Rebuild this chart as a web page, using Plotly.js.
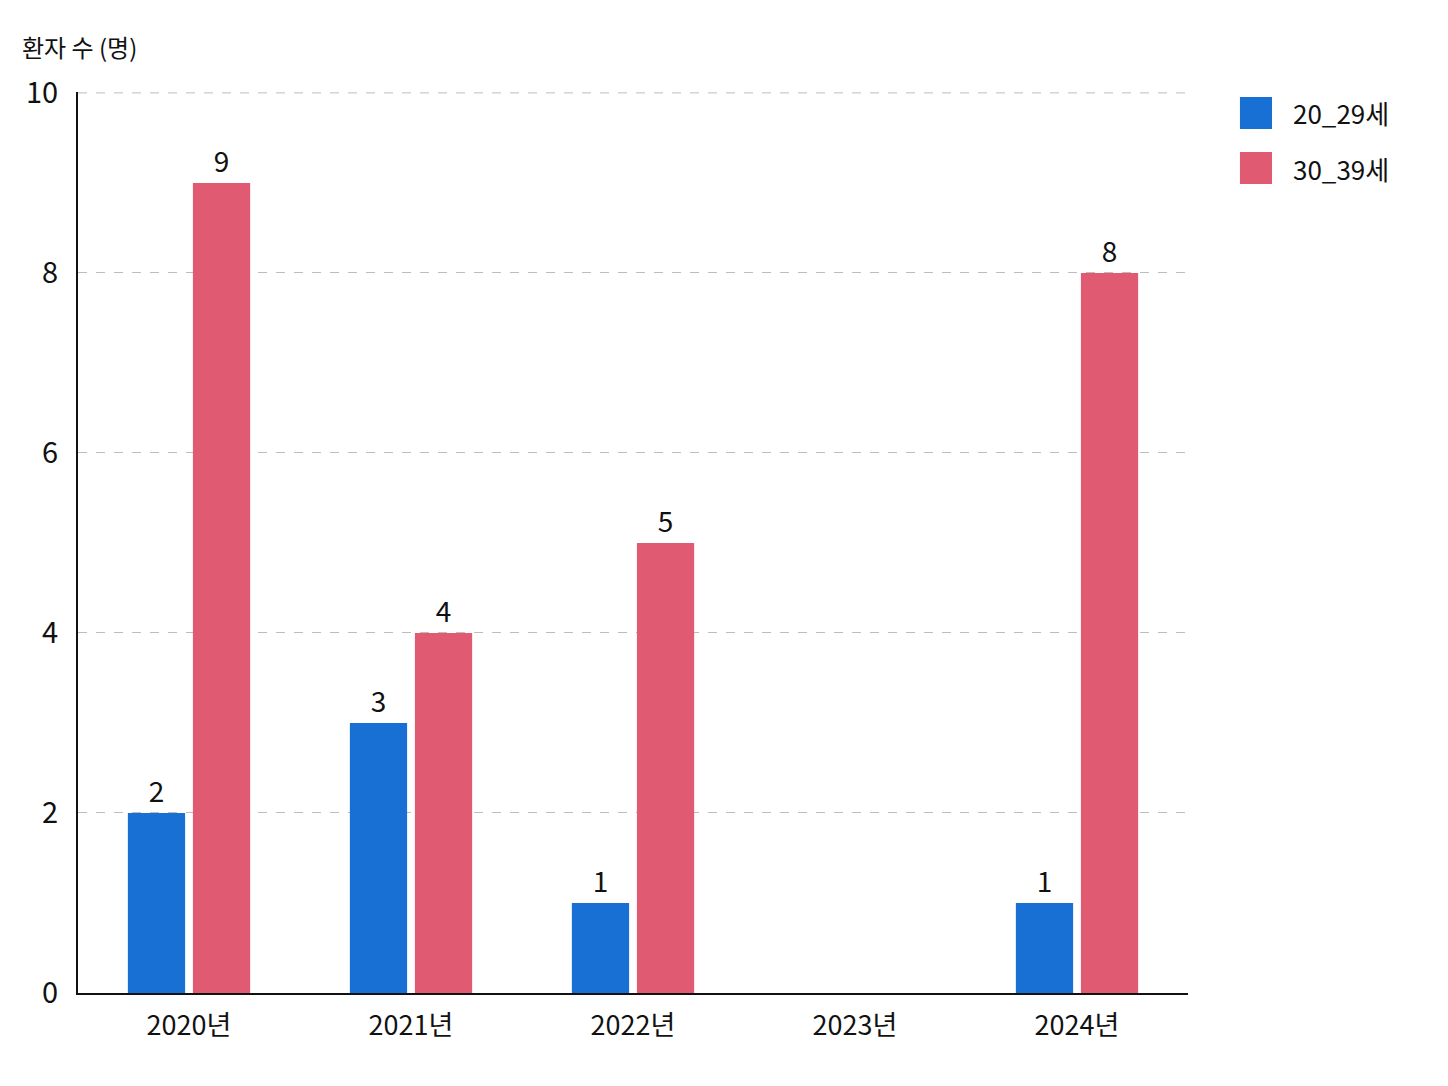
<!DOCTYPE html>
<html>
<head>
<meta charset="utf-8">
<script src="https://cdn.plot.ly/plotly-3.0.1.min.js"></script>
<style>
  html, body { margin: 0; padding: 0; background: #fff; }
  #chart { width: 1448px; height: 1086px; }
</style>
</head>
<body>
<div id="chart"></div>
<script>
var years = ['2020년', '2021년', '2022년', '2023년', '2024년'];
var age20s = [2, 3, 1, null, 1];
var age30s = [9, 4, 5, null, 8];
var seriesNames = ['20_29세', '30_39세'];
var seriesColors = ['#1870d4', '#e05b72'];
var yTicks = [0, 2, 4, 6, 8, 10];

var font = 'Noto Sans CJK KR, Noto Sans, sans-serif';

function barTrace(name, values, color) {
  return {
    type: 'bar',
    name: name,
    x: years,
    y: values,
    marker: {color: color},
    text: values.map(function (v) { return v === null ? '' : String(v); }),
    textposition: 'outside',
    textfont: {family: font, size: 28, color: '#111'},
    cliponaxis: false,
    hoverinfo: 'x+y+name'
  };
}

var data = [
  barTrace(seriesNames[0], age20s, seriesColors[0]),
  barTrace(seriesNames[1], age30s, seriesColors[1])
];

// top gridline (plotly drops the one sitting on the plot edge)
var shapes = [{
  type: 'line', xref: 'paper', yref: 'y',
  x0: 0, x1: 1, y0: yTicks[yTicks.length - 1], y1: yTicks[yTicks.length - 1],
  line: {color: '#bdbdbd', width: 1, dash: 'dash'}, layer: 'below'
}];

// legend drawn by hand so the swatches can be large
var annotations = [{
  xref: 'paper', yref: 'paper',
  x: 0, y: 1, xshift: -58, yshift: 46,
  xanchor: 'left', yanchor: 'middle',
  text: '환자 수 (명)', showarrow: false,
  font: {family: font, size: 24, color: '#111'}
}];
var legendY = [0.9767, 0.9156];
seriesNames.forEach(function (n, i) {
  shapes.push({
    type: 'rect', xref: 'paper', yref: 'paper',
    x0: 1.0468, x1: 1.0757,
    y0: legendY[i] - 0.0178, y1: legendY[i] + 0.0178,
    fillcolor: seriesColors[i], line: {width: 0}
  });
  annotations.push({
    xref: 'paper', yref: 'paper',
    x: 1.0928, y: legendY[i],
    xanchor: 'left', yanchor: 'middle',
    text: n, showarrow: false,
    font: {family: font, size: 26, color: '#111'}
  });
});

var layout = {
  width: 1448,
  height: 1086,
  margin: {l: 78, r: 260, t: 92, b: 93, pad: 0},
  paper_bgcolor: '#fff',
  plot_bgcolor: '#fff',
  font: {family: font, size: 26, color: '#111'},
  showlegend: false,
  barmode: 'group',
  bargap: 0.414,
  bargroupgap: 0.12,
  xaxis: {
    showline: true, linecolor: '#111', linewidth: 2,
    showgrid: false, ticks: '', ticklabelstandoff: 8,
    tickfont: {family: font, size: 27, color: '#111'},
    fixedrange: true
  },
  yaxis: {
    range: [0, 10.01],
    tickvals: yTicks,
    showline: true, linecolor: '#111', linewidth: 2,
    showgrid: true, gridcolor: '#bdbdbd', griddash: 'dash', gridwidth: 1,
    zeroline: false, ticks: '', ticklabelstandoff: 12,
    tickfont: {family: font, size: 29, color: '#111'},
    fixedrange: true
  },
  shapes: shapes,
  annotations: annotations
};

Plotly.newPlot('chart', data, layout, {displayModeBar: false, staticPlot: true});
</script>
</body>
</html>
